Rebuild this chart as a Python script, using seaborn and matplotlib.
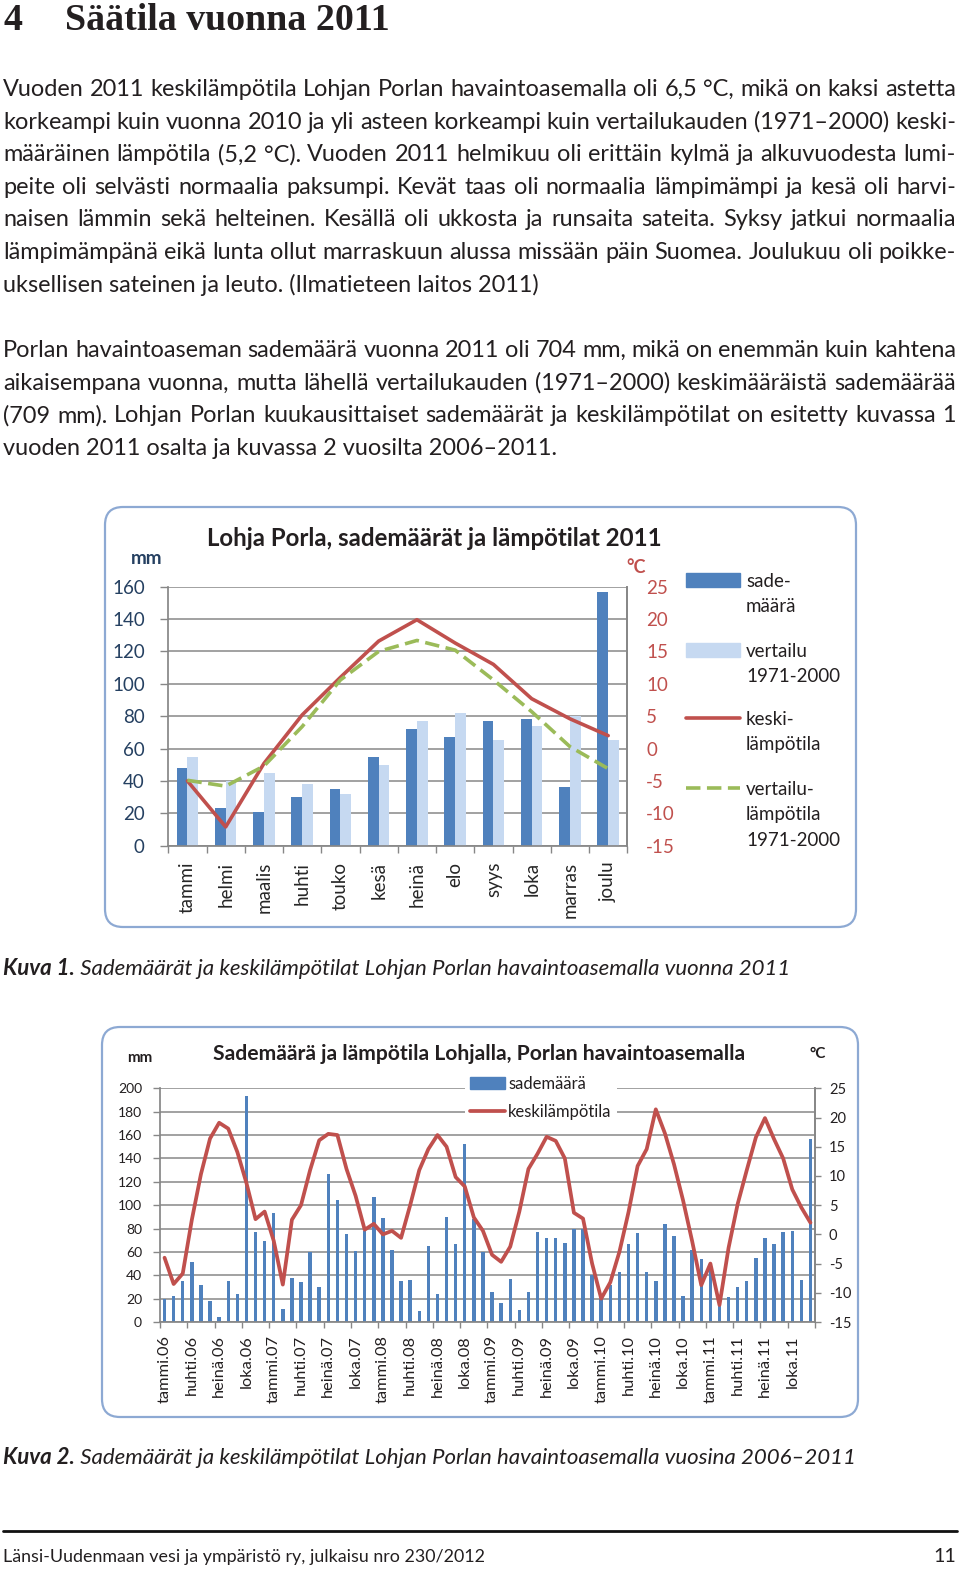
import numpy as np
import pandas as pd
import matplotlib
matplotlib.use("Agg")
import matplotlib.pyplot as plt
import seaborn as sns
from matplotlib.patches import FancyBboxPatch, Rectangle, Patch
from matplotlib.lines import Line2D

# -----------------------------
# Data
# -----------------------------
months = ['tammi', 'helmi', 'maalis', 'huhti', 'touko', 'kesä',
          'heinä', 'elo', 'syys', 'loka', 'marras', 'joulu']

# Kuva 1: 2011 and reference period 1971-2000
rain_2011 = [48, 23, 21, 30, 35, 55, 72, 67, 77, 78, 36, 157]
rain_ref = [55, 40, 45, 38, 32, 50, 77, 82, 65, 74, 80, 65]
temp_2011 = [-5.0, -12.1, -2.3, 5.2, 11.0, 16.6, 19.9, 16.3, 13.0, 7.7, 4.6, 2.0]
temp_ref = [-4.9, -5.8, -2.7, 3.4, 10.6, 15.0, 16.7, 15.2, 10.6, 5.7, 0.3, -3.1]

# Kuva 2: monthly values 2006-2011
years = ['06', '07', '08', '09', '10', '11']
rain_2006 = [20, 22, 35, 51, 32, 18, 4, 35, 24, 193, 77, 69]
rain_2007 = [93, 11, 38, 34, 60, 30, 127, 104, 75, 61, 78, 107]
rain_2008 = [89, 62, 35, 36, 9, 65, 24, 90, 67, 152, 88, 60]
rain_2009 = [26, 16, 37, 10, 26, 77, 72, 72, 68, 80, 80, 40]
rain_2010 = [20, 32, 43, 67, 76, 43, 35, 84, 74, 22, 62, 54]
temp_2006 = [-4.0, -8.5, -6.7, 2.5, 10.3, 16.4, 19.1, 18.1, 14.1, 8.8, 2.6, 3.9]
temp_2007 = [-1.1, -8.6, 2.5, 5.0, 11.0, 16.1, 17.2, 17.0, 11.2, 6.6, 0.8, 1.8]
temp_2008 = [0.0, 0.6, -0.6, 5.0, 11.0, 14.6, 17.0, 15.0, 9.8, 8.2, 2.9, 0.6]
temp_2009 = [-3.5, -4.7, -2.1, 3.9, 11.2, 13.8, 16.7, 16.0, 13.0, 3.7, 2.7, -5.0]
temp_2010 = [-11.0, -8.2, -3.0, 3.8, 11.7, 14.6, 21.4, 17.3, 12.0, 5.8, -1.2, -8.7]

rain_all = rain_2006 + rain_2007 + rain_2008 + rain_2009 + rain_2010 + rain_2011
temp_all = temp_2006 + temp_2007 + temp_2008 + temp_2009 + temp_2010 + temp_2011
month_labels = [f"{m}.{y}" for y in years for m in months]

# -----------------------------
# Page text
# -----------------------------
heading_no = "4"
heading = "Säätila vuonna 2011"
para1 = [
    "Vuoden 2011 keskilämpötila Lohjan Porlan havaintoasemalla oli 6,5 °C, mikä on kaksi astetta",
    "korkeampi kuin vuonna 2010 ja yli asteen korkeampi kuin vertailukauden (1971–2000) keski-",
    "määräinen lämpötila (5,2 °C). Vuoden 2011 helmikuu oli erittäin kylmä ja alkuvuodesta lumi-",
    "peite oli selvästi normaalia paksumpi. Kevät taas oli normaalia lämpimämpi ja kesä oli harvi-",
    "naisen lämmin sekä helteinen. Kesällä oli ukkosta ja runsaita sateita. Syksy jatkui normaalia",
    "lämpimämpänä eikä lunta ollut marraskuun alussa missään päin Suomea. Joulukuu oli poikke-",
    "uksellisen sateinen ja leuto. (Ilmatieteen laitos 2011)",
]
para2 = [
    "Porlan havaintoaseman sademäärä vuonna 2011 oli 704 mm, mikä on enemmän kuin kahtena",
    "aikaisempana vuonna, mutta lähellä vertailukauden (1971–2000) keskimääräistä sademäärää",
    "(709 mm). Lohjan Porlan kuukausittaiset sademäärät ja keskilämpötilat on esitetty kuvassa 1",
    "vuoden 2011 osalta ja kuvassa 2 vuosilta 2006–2011.",
]
cap1 = ("Kuva 1.", " Sademäärät ja keskilämpötilat Lohjan Porlan havaintoasemalla vuonna 2011")
cap2 = ("Kuva 2.", " Sademäärät ja keskilämpötilat Lohjan Porlan havaintoasemalla vuosina 2006–2011")
footer = "Länsi-Uudenmaan vesi ja ympäristö ry, julkaisu nro 230/2012"

# -----------------------------
# Figure / page canvas in pixels
# -----------------------------
sns.set_theme(style="white")
plt.rcParams['font.family'] = ['Lato', 'DejaVu Sans']
plt.rcParams['axes.unicode_minus'] = False

W, H = 960, 1570
fig = plt.figure(figsize=(9.6, 15.7), dpi=100)
page = fig.add_axes([0, 0, 1, 1])
page.set_xlim(0, W)
page.set_ylim(H, 0)
page.axis('off')
renderer = fig.canvas.get_renderer()

TXT = '#231F20'
BLUE = '#4F81BD'
LIGHT = '#C6D9F1'
RED = '#C0504D'
GREEN = '#9BBB59'
GRID = '#878787'


def px_axes(x0, y0, x1, y1):
    return fig.add_axes([x0 / W, 1 - y1 / H, (x1 - x0) / W, (y1 - y0) / H])


def text_width(s, **kw):
    t = page.text(0, 0, s, **kw)
    w = t.get_window_extent(renderer).width
    t.remove()
    return w


def fit_size(s, width, **kw):
    return 10 * width / text_width(s, fontsize=10, **kw)


def justified(line, y, size, x0=3, x1=956, last=False):
    if last:
        page.text(x0, y, line, fontsize=size, color=TXT, va='baseline')
        return
    words = line.split(' ')
    widths = [text_width(w, fontsize=size) for w in words]
    gap = (x1 - x0 - sum(widths)) / (len(words) - 1)
    x = x0
    for w, wd in zip(words, widths):
        page.text(x, y, w, fontsize=size, color=TXT, va='baseline')
        x += wd + gap


# heading
hsize = fit_size(heading, 325, family='Liberation Serif', weight='bold')
page.text(3, 30, heading_no, fontsize=hsize, family='Liberation Serif', weight='bold', color=TXT, va='baseline')
page.text(65, 30, heading, fontsize=hsize, family='Liberation Serif', weight='bold', color=TXT, va='baseline')

# body paragraphs
body = fit_size(para1[-1], 538)
for i, line in enumerate(para1):
    justified(line, 96 + i * 32.6, body, last=(i == len(para1) - 1))
for i, line in enumerate(para2):
    justified(line, 357 + i * 32.6, body, last=(i == len(para2) - 1))

# captions
csize = fit_size(cap1[1], 716, style='italic')
for cap, y in [(cap1, 975), (cap2, 1464)]:
    bw = text_width(cap[0], fontsize=csize, style='italic', weight='bold')
    page.text(3, y, cap[0], fontsize=csize, style='italic', weight='bold', color=TXT, va='baseline')
    page.text(3 + bw, y, cap[1], fontsize=csize, style='italic', color=TXT, va='baseline')

# footer
page.plot([3, 957], [1531, 1531], color='#111111', lw=2)
fsize = fit_size(footer, 481)
page.text(3, 1562, footer, fontsize=fsize, color=TXT, va='baseline')
page.text(956, 1562, "11", fontsize=fsize * 1.1, color=TXT, va='baseline', ha='right')

# chart frames
for x0, y0, x1, y1 in [(105, 507, 856, 927), (102, 1027, 858, 1417)]:
    page.add_patch(FancyBboxPatch((x0, y0), x1 - x0, y1 - y0,
                                  boxstyle="round,pad=0,rounding_size=18",
                                  fc='white', ec='#8DA9D3', lw=1.6))

# -----------------------------
# Kuva 1
# -----------------------------
ax1 = px_axes(168.3, 586.7, 627.3, 845.7)
df1 = pd.DataFrame({'kk': months * 2,
                    'mm': rain_2011 + rain_ref,
                    'sarja': ['sademäärä'] * 12 + ['vertailu 1971-2000'] * 12})
sns.barplot(data=df1, x='kk', y='mm', hue='sarja', palette=[BLUE, LIGHT],
            width=0.56, saturation=1, linewidth=0, legend=False, ax=ax1)
ax1.set(xlabel='', ylabel='', ylim=(0, 160), xlim=(-0.5, 11.5))
ax1.set_yticks(range(0, 161, 20))
ax1.yaxis.grid(True, color=GRID, lw=1.1)
ax1.set_axisbelow(True)
ax1.tick_params(axis='y', left=True, length=6, width=1, color=GRID, pad=11,
                labelsize=13.5, labelcolor='#254061')
ax1.set_xticks(range(12))
ax1.set_xticklabels(months, rotation=90)
ax1.tick_params(axis='x', bottom=True, length=0, pad=11.5, labelsize=13.5, labelcolor='#262626')
ax1.set_xticks(np.arange(-0.5, 12, 1), minor=True)
ax1.tick_params(axis='x', which='minor', bottom=True, length=5, width=1, color=GRID)
ax1.spines['top'].set_visible(False)
for s in ['left', 'bottom', 'right']:
    ax1.spines[s].set_color(GRID)

ax2 = ax1.twinx()
sns.lineplot(x=np.arange(12), y=temp_2011, color=RED, lw=2.6, ax=ax2)
sns.lineplot(x=np.arange(12), y=temp_ref, color=GREEN, lw=2.6,
             linestyle=(0, (4, 1.8)), ax=ax2)
ax2.set(ylim=(-15, 25), ylabel='')
ax2.set_yticks(range(-15, 26, 5))
ax2.tick_params(axis='y', right=True, length=0, pad=13.5, labelsize=13.5, labelcolor=RED)
for s in ['top', 'left', 'bottom']:
    ax2.spines[s].set_visible(False)
ax2.spines['right'].set_color(GRID)

t1 = "Lohja Porla, sademäärät ja lämpötilat 2011"
page.text(434, 546, t1, fontsize=fit_size(t1, 454, weight='bold'), weight='bold',
          color=TXT, ha='center', va='baseline')
page.text(131, 564, "mm", fontsize=13.5, weight='bold', color='#254061', va='baseline')
page.text(626, 573, "°C", fontsize=13, weight='bold', color=RED, va='baseline')

# legend of Kuva 1
leg_kw = dict(fontsize=13.5, color=TXT, va='baseline')
page.add_patch(Rectangle((686, 573), 54, 14, color=BLUE))
page.add_patch(Rectangle((686, 643), 54, 14, color=LIGHT))
page.plot([686, 740], [718, 718], color=RED, lw=2.6)
page.plot([686, 740], [788, 788], color=GREEN, lw=2.6, linestyle=(0, (4, 1.8)))
for lines, y in [(["sade-", "määrä"], 580), (["vertailu", "1971-2000"], 650),
                 (["keski-", "lämpötila"], 718),
                 (["vertailu-", "lämpötila", "1971-2000"], 788)]:
    for j, s in enumerate(lines):
        page.text(746, y + 7 + j * 25.3, s, **leg_kw)

# -----------------------------
# Kuva 2
# -----------------------------
ax3 = px_axes(160, 1088.3, 815, 1322)
df2 = pd.DataFrame({'kk': month_labels, 'mm': rain_all})
sns.barplot(data=df2, x='kk', y='mm', color=BLUE, saturation=1, width=0.38,
            linewidth=0, ax=ax3)
ax3.set(xlabel='', ylabel='', ylim=(0, 200), xlim=(-0.5, 71.5))
ax3.set_yticks(range(0, 201, 20))
ax3.yaxis.grid(True, color=GRID, lw=1.1)
ax3.set_axisbelow(True)
ax3.tick_params(axis='y', left=True, length=5, width=1, color=GRID, pad=8,
                labelsize=10, labelcolor=TXT)
ax3.set_xticks(range(0, 72, 3))
ax3.set_xticklabels(month_labels[::3], rotation=90)
ax3.tick_params(axis='x', bottom=True, length=0, pad=9.5, labelsize=11.8, labelcolor=TXT)
ax3.set_xticks(np.arange(-0.5, 72, 3), minor=True)
ax3.tick_params(axis='x', which='minor', bottom=True, length=4, width=1, color=GRID)
ax3.spines['top'].set_visible(False)
for s in ['left', 'bottom', 'right']:
    ax3.spines[s].set_color(GRID)

ax4 = ax3.twinx()
sns.lineplot(x=np.arange(72), y=temp_all, color=RED, lw=2.7, ax=ax4)
ax4.set(ylim=(-15, 25), ylabel='')
ax4.set_yticks(range(-15, 26, 5))
ax4.tick_params(axis='y', right=True, length=4, width=1, color=GRID, pad=6,
                labelsize=10.5, labelcolor=TXT)
for s in ['top', 'left', 'bottom']:
    ax4.spines[s].set_visible(False)
ax4.spines['right'].set_color(GRID)

handles = [Patch(color=BLUE), Line2D([0], [1], color=RED, lw=2.7)]
leg = ax4.legend(handles, ['sademäärä', 'keskilämpötila'], loc='upper left',
                 bbox_to_anchor=(465 / W, 1 - 1071 / H), bbox_transform=fig.transFigure,
                 frameon=True, facecolor='white', edgecolor='none', framealpha=1,
                 fontsize=12, handlelength=2.1, handletextpad=0.2, labelspacing=0.7,
                 borderpad=0.3, borderaxespad=0)
for t in leg.get_texts():
    t.set_color(TXT)

t2 = "Sademäärä ja lämpötila Lohjalla, Porlan havaintoasemalla"
page.text(479, 1060, t2, fontsize=fit_size(t2, 532, weight='bold'), weight='bold',
          color=TXT, ha='center', va='baseline')
page.text(127, 1062, "mm", fontsize=11, weight='bold', color=TXT, va='baseline')
page.text(809, 1058, "°C", fontsize=11, weight='bold', color=TXT, va='baseline')

fig.savefig("out.png", dpi=100)
